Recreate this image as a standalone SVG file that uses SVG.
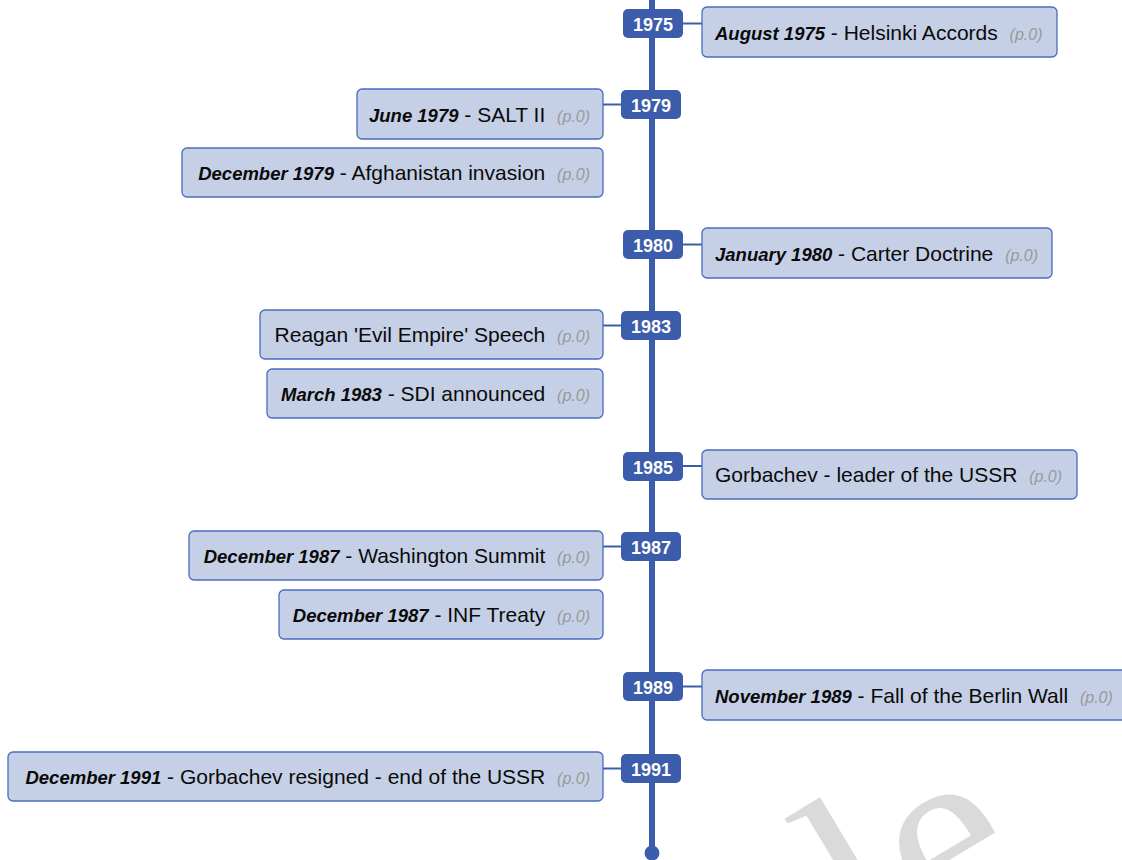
<svg xmlns="http://www.w3.org/2000/svg" width="1122" height="860" viewBox="0 0 1122 860">
<style>
.card{fill:#c5d0e6;stroke:#4a6cc0;stroke-width:1.3}
.badge{fill:#3c5dab}
.yr{fill:#fff;font:bold 18px "Liberation Sans",Arial,sans-serif;text-anchor:middle}
.t{font-family:"Liberation Sans",Arial,sans-serif;font-size:21px;fill:#0a0a0a}
.l{text-anchor:end}
.d{font-weight:bold;font-style:italic;font-size:18.5px}
.p{font-style:italic;font-size:16px;fill:#999}
.conn{stroke:#3c5dab;stroke-width:2;fill:none}
.wm{font-family:"Liberation Serif","Times New Roman",serif;font-size:260px;fill:#dadada}
</style>
<text class="wm" transform="translate(873 976) rotate(-31)">le</text>
<g id="axis">
<line x1="652" y1="0" x2="652" y2="853" stroke="#3c5dab" stroke-width="6"/>
<circle cx="652" cy="853" r="7.5" fill="#3c5dab"/>
</g>
<g id="connectors">
<line class="conn" x1="683" y1="23.5" x2="702" y2="23.5"/>
<line class="conn" x1="603" y1="104.5" x2="621" y2="104.5"/>
<line class="conn" x1="683" y1="244.5" x2="702" y2="244.5"/>
<line class="conn" x1="603" y1="325.5" x2="621" y2="325.5"/>
<line class="conn" x1="683" y1="466" x2="702" y2="466"/>
<line class="conn" x1="603" y1="546.5" x2="621" y2="546.5"/>
<line class="conn" x1="683" y1="686.5" x2="702" y2="686.5"/>
<line class="conn" x1="603" y1="768.5" x2="621" y2="768.5"/>
</g>
<g id="y1975"><rect class="badge" x="623" y="9" width="60" height="29" rx="5"/><text class="yr" x="653" y="31">1975</text></g>
<g id="y1979"><rect class="badge" x="621" y="90" width="60" height="29" rx="5"/><text class="yr" x="651" y="112">1979</text></g>
<g id="y1980"><rect class="badge" x="623" y="230" width="60" height="29" rx="5"/><text class="yr" x="653" y="252">1980</text></g>
<g id="y1983"><rect class="badge" x="621" y="311" width="60" height="29" rx="5"/><text class="yr" x="651" y="333">1983</text></g>
<g id="y1985"><rect class="badge" x="623" y="452" width="60" height="29" rx="5"/><text class="yr" x="653" y="474">1985</text></g>
<g id="y1987"><rect class="badge" x="621" y="532" width="60" height="29" rx="5"/><text class="yr" x="651" y="554">1987</text></g>
<g id="y1989"><rect class="badge" x="623" y="672" width="60" height="29" rx="5"/><text class="yr" x="653" y="694">1989</text></g>
<g id="y1991"><rect class="badge" x="621" y="754" width="60" height="29" rx="5"/><text class="yr" x="651" y="776">1991</text></g>

<g id="e1975"><rect class="card" x="702" y="7" width="355" height="50" rx="5"/><text class="t" x="715" y="40"><tspan class="d">August 1975</tspan> - Helsinki Accords <tspan class="p" dx="6">(p.0)</tspan></text></g>
<g id="e1979a"><rect class="card" x="357" y="89" width="246" height="50" rx="5"/><text class="t l" x="590" y="122"><tspan class="d">June 1979</tspan> - SALT II <tspan class="p" dx="6">(p.0)</tspan></text></g>
<g id="e1979b"><rect class="card" x="182" y="148" width="421" height="49" rx="5"/><text class="t l" x="590" y="180"><tspan class="d">December 1979</tspan> - Afghanistan invasion <tspan class="p" dx="6">(p.0)</tspan></text></g>
<g id="e1980"><rect class="card" x="702" y="228" width="350" height="50" rx="5"/><text class="t" x="715" y="261"><tspan class="d">January 1980</tspan> - Carter Doctrine <tspan class="p" dx="6">(p.0)</tspan></text></g>
<g id="e1983a"><rect class="card" x="260" y="310" width="343" height="49" rx="5"/><text class="t l" x="590" y="342">Reagan 'Evil Empire' Speech <tspan class="p" dx="6">(p.0)</tspan></text></g>
<g id="e1983b"><rect class="card" x="267" y="369" width="336" height="49" rx="5"/><text class="t l" x="590" y="401"><tspan class="d">March 1983</tspan> - SDI announced <tspan class="p" dx="6">(p.0)</tspan></text></g>
<g id="e1985"><rect class="card" x="702" y="450" width="375" height="49" rx="5"/><text class="t" x="715" y="482">Gorbachev - leader of the USSR <tspan class="p" dx="6">(p.0)</tspan></text></g>
<g id="e1987a"><rect class="card" x="189" y="531" width="414" height="49" rx="5"/><text class="t l" x="590" y="563"><tspan class="d">December 1987</tspan> - Washington Summit <tspan class="p" dx="6">(p.0)</tspan></text></g>
<g id="e1987b"><rect class="card" x="279" y="590" width="324" height="49" rx="5"/><text class="t l" x="590" y="622"><tspan class="d">December 1987</tspan> - INF Treaty <tspan class="p" dx="6">(p.0)</tspan></text></g>
<g id="e1989"><rect class="card" x="702" y="670" width="428" height="50" rx="5"/><text class="t" x="715" y="703"><tspan class="d">November 1989</tspan> - Fall of the Berlin Wall <tspan class="p" dx="6">(p.0)</tspan></text></g>
<g id="e1991"><rect class="card" x="8" y="752" width="595" height="49" rx="5"/><text class="t l" x="590" y="784"><tspan class="d">December 1991</tspan> - Gorbachev resigned - end of the USSR <tspan class="p" dx="6">(p.0)</tspan></text></g>
</svg>
